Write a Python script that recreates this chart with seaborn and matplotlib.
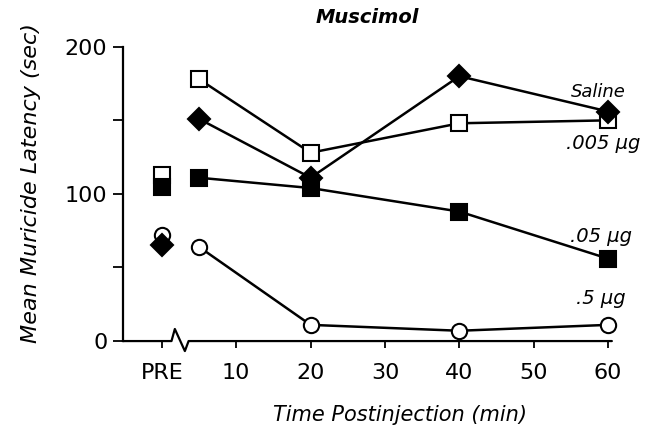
import pandas as pd
import seaborn as sns
import numpy as np
import matplotlib.pyplot as plt
import matplotlib.transforms as mtransforms

# time axis: PRE is plotted at 0, postinjection times in minutes
pre_time = 0
post_times = [5, 20, 40, 60]
tick_pos = [0, 10, 20, 30, 40, 50, 60]
tick_labels = ['PRE', '10', '20', '30', '40', '50', '60']

# mean muricide latency (sec)
saline_pre = 65
saline_post = [151, 111, 180, 156]
dose005_pre = 113
dose005_post = [178, 128, 148, 150]
dose05_pre = 105
dose05_post = [111, 104, 88, 56]
dose5_pre = 72
dose5_post = [64, 11, 7, 11]

series_names = ['.005 \u03bcg', '.5 \u03bcg', '.05 \u03bcg', 'Saline']
pre_values = [dose005_pre, dose5_pre, dose05_pre, saline_pre]
post_values = [dose005_post, dose5_post, dose05_post, saline_post]
markers = ['s', 'o', 's', 'D']
faces = ['white', 'white', 'black', 'black']
msizes = [11, 11, 11, 11]

sns.set_style("ticks")
plt.rcParams['font.family'] = ['DejaVu Sans']
plt.rcParams['text.color'] = 'black'
plt.rcParams['axes.labelcolor'] = 'black'
plt.rcParams['xtick.color'] = 'black'
plt.rcParams['ytick.color'] = 'black'

fig, ax = plt.subplots(figsize=(6.53, 4.29), dpi=100)
fig.subplots_adjust(left=0.188, right=0.937, top=0.891, bottom=0.205)

for name, pre, post, mk, fc, ms in zip(series_names, pre_values, post_values, markers, faces, msizes):
    df = pd.DataFrame({'Time': post_times, 'Latency': post})
    sns.lineplot(x='Time', y='Latency', data=df, ax=ax, color='black', lw=1.8,
                 marker=mk, markersize=ms, markerfacecolor=fc, markeredgecolor='black',
                 markeredgewidth=1.5, clip_on=False)
    dpre = pd.DataFrame({'Time': [pre_time], 'Latency': [pre]})
    sns.lineplot(x='Time', y='Latency', data=dpre, ax=ax, color='black',
                 marker=mk, markersize=ms, markerfacecolor=fc, markeredgecolor='black',
                 markeredgewidth=1.5, clip_on=False)

# curve labels
ax.text(58.7, 169, 'Saline', style='italic', fontsize=13, ha='center', va='center')
ax.text(59.4, 134, '.005 \u03bcg', style='italic', fontsize=14, ha='center', va='center')
ax.text(59.0, 71, '.05 \u03bcg', style='italic', fontsize=14, ha='center', va='center')
ax.text(59.0, 29, '.5 \u03bcg', style='italic', fontsize=14, ha='center', va='center')

ax.set_xlim(-5.25, 60.5)
ax.set_ylim(0, 200)
ax.set_xticks(tick_pos)
ax.set_xticklabels(tick_labels)
ax.set_yticks([0, 50, 100, 150, 200])
ax.set_yticklabels(['0', '', '100', '', '200'])
ax.tick_params(direction='out', width=1.3, labelsize=16, colors='black')
ax.tick_params(axis='x', length=5, pad=11)
ax.tick_params(axis='y', length=7, pad=4)

sns.despine(ax=ax)
ax.spines['bottom'].set_visible(False)
ax.spines['left'].set_linewidth(1.6)
ax.spines['left'].set_color('black')

# x axis line with break mark after PRE
trans = mtransforms.blended_transform_factory(ax.transData, ax.transAxes)
ax.plot([-5.25, 1.3, 1.75, 3.1, 3.6, 60.5], [0, 0, 0.041, -0.034, 0, 0],
        color='black', lw=1.6, transform=trans, clip_on=False)

ax.set_title('Muscimol', style='italic', fontsize=14, fontweight='bold', pad=17)
ax.set_xlabel('Time Postinjection (min)', style='italic', fontsize=15)
ax.xaxis.set_label_coords(0.567, -0.218)
ax.set_ylabel('Mean Muricide Latency (sec)', style='italic', fontsize=16)
ax.yaxis.set_label_coords(-0.167, 0.537)

fig.savefig('out.png', dpi=100)
